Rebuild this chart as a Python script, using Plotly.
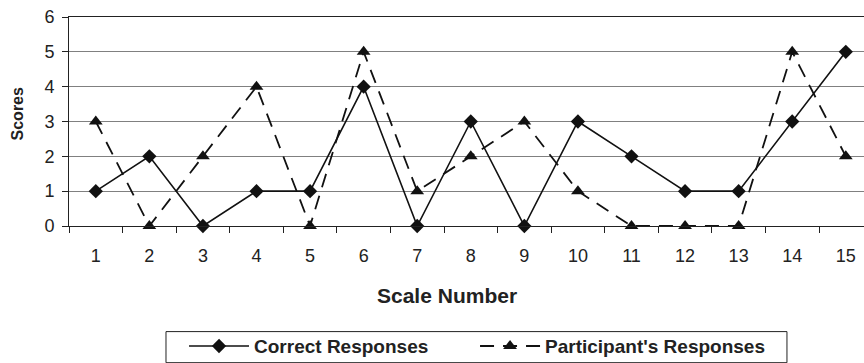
import plotly.graph_objects as go

scales = [str(i) for i in range(1, 16)]
correct = [1, 2, 0, 1, 1, 4, 0, 3, 0, 3, 2, 1, 1, 3, 5]
participant = [3, 0, 2, 4, 0, 5, 1, 2, 3, 1, 0, 0, 0, 5, 2]
y_ticks = [0, 1, 2, 3, 4, 5, 6]

FONT = "Liberation Sans, Arial, sans-serif"
INK = "#222222"

fig = go.Figure()
fig.add_trace(go.Scatter(
    x=scales, y=correct, name="Correct Responses", mode="lines+markers",
    line=dict(color="#111111", width=1.6),
    marker=dict(symbol="diamond", size=11, color="#111111"),
    cliponaxis=False,
))
fig.add_trace(go.Scatter(
    x=scales, y=participant, name="Participant's Responses", mode="lines+markers",
    line=dict(color="#111111", width=1.8, dash="14px,9px"),
    marker=dict(symbol="triangle-up", size=12, color="#111111"),
    cliponaxis=False,
))

fig.update_layout(
    width=864, height=363,
    margin=dict(l=69, r=0, t=17, b=137, autoexpand=False),
    paper_bgcolor="white", plot_bgcolor="white",
    font=dict(family=FONT, size=18, color=INK),
    showlegend=True,
    legend=dict(
        orientation="h", x=0.1447, xanchor="left",
        y=-0.484, yanchor="top",
        bgcolor="rgba(0,0,0,0)", borderwidth=0,
        font=dict(family=FONT, size=19, color=INK, weight="bold"),
        itemwidth=60, entrywidth=216, traceorder="normal",
    ),
    xaxis=dict(
        type="category", categoryorder="array", categoryarray=scales,
        range=[-0.5, 14.34], tickson="boundaries",
        ticks="outside", ticklen=6, tickcolor=INK, tickwidth=1,
        showline=True, linecolor=INK, linewidth=1, mirror=True,
        showgrid=False, ticklabelstandoff=13,
        tickfont=dict(size=18, family=FONT, color=INK),
    ),
    yaxis=dict(
        range=[0, 6], tickvals=y_ticks,
        ticks="outside", ticklen=6, tickcolor=INK, tickwidth=1,
        showline=True, linecolor=INK, linewidth=1,
        showgrid=True, gridcolor="#808080", gridwidth=1,
        zeroline=False, ticklabelstandoff=4,
        tickfont=dict(size=18, family=FONT, color=INK),
    ),
    shapes=[
        dict(type="rect", xref="paper", yref="paper",
             x0=0.122, x1=0.9031, y0=-0.654, y1=-0.5053,
             line=dict(color=INK, width=1), fillcolor="rgba(0,0,0,0)",
             layer="below"),
    ],
    annotations=[
        dict(text="<b>Scale Number</b>", xref="paper", yref="paper",
             x=0.4755, y=-0.3325, xanchor="center", yanchor="middle",
             showarrow=False, font=dict(size=21, family=FONT, color=INK)),
        dict(text="<b>Scores</b>", xref="paper", yref="paper",
             x=-0.0648, y=0.536, xanchor="center", yanchor="middle",
             textangle=-90, showarrow=False,
             font=dict(size=16, family=FONT, color=INK)),
    ],
)

fig.write_html("out.html")
